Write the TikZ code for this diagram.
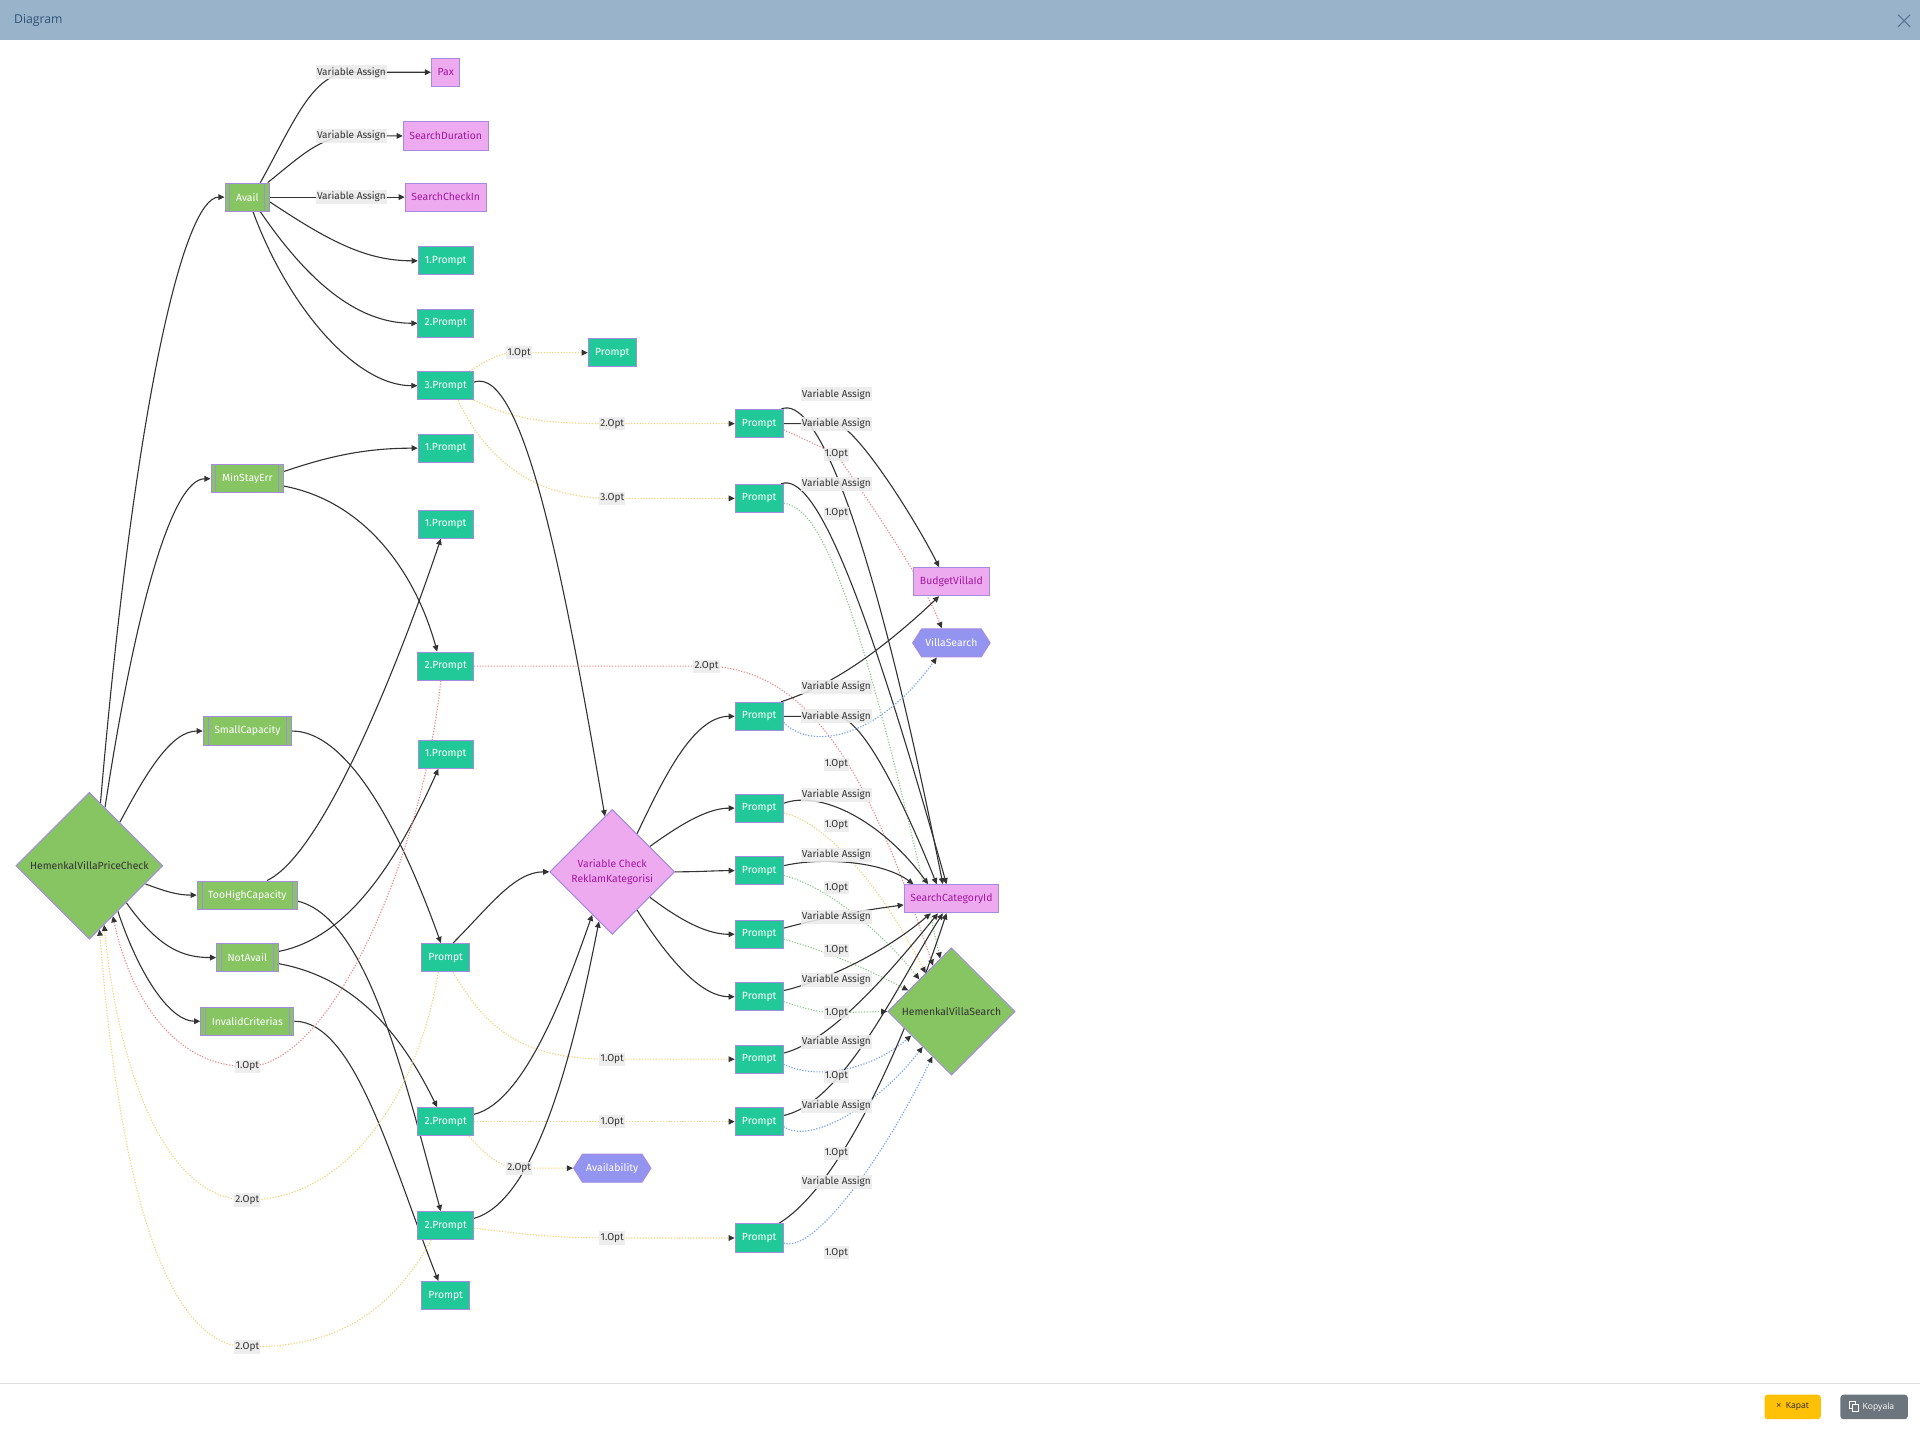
\documentclass[tikz,border=0pt]{standalone}
\usepackage{fontspec}
\setmainfont{Fira Sans}
\newfontfamily\uifont{Open Sans}
\usetikzlibrary{arrows.meta,shapes.geometric,shapes.symbols}
\definecolor{hdr}{HTML}{99B3CB}
\definecolor{hdrtxt}{HTML}{2E5274}
\definecolor{tealc}{HTML}{20C997}
\definecolor{grn}{HTML}{87C562}
\definecolor{pnk}{HTML}{EEAAEE}
\definecolor{pnktxt}{HTML}{A0179F}
\definecolor{hexc}{HTML}{9394F0}
\definecolor{bord}{HTML}{A58BE0}
\definecolor{edgec}{HTML}{333333}
\definecolor{optY}{HTML}{F2D27A}
\definecolor{optR}{HTML}{F08888}
\definecolor{optG}{HTML}{88CC88}
\definecolor{optB}{HTML}{6FA0F0}
\definecolor{kapc}{HTML}{FFC107}
\definecolor{kopc}{HTML}{6C757D}
\pgfdeclarelayer{back}
\pgfdeclarelayer{bg}
\pgfsetlayers{back,bg,main}
\tikzset{
 base/.style={draw=bord, line width=0.8pt, minimum height=23pt, inner xsep=5.5pt, inner ysep=0pt, font=\fontsize{8.5}{10}\selectfont},
 prompt/.style={base, rectangle, fill=tealc, text=white},
 varn/.style={base, rectangle, fill=pnk, text=pnktxt, inner xsep=5pt},
 sub/.style={base, rectangle, fill=grn, text=white, inner xsep=9pt,
   path picture={\draw[bord, line width=0.8pt]
     ([xshift=4pt]path picture bounding box.south west) -- ([xshift=4pt]path picture bounding box.north west)
     ([xshift=-4pt]path picture bounding box.south east) -- ([xshift=-4pt]path picture bounding box.north east);}},
 hexn/.style={base, signal, signal to=east and west, signal from=nowhere, signal pointer angle=115, fill=hexc, text=white, inner xsep=3pt},
 dia/.style={diamond, aspect=1, draw=bord, line width=0.8pt, inner sep=0pt, font=\fontsize{8.5}{12.5}\selectfont},
 flow/.style={draw=edgec, line width=0.9pt, -{Triangle[length=5pt,width=4.6pt]}},
 opt/.style={line width=0.9pt, dash pattern=on 1pt off 1.3pt, -{Triangle[length=5pt,width=4.6pt,color=edgec]}},
 oy/.style={opt, draw=optY},
 orr/.style={opt, draw=optR},
 og/.style={opt, draw=optG},
 ob/.style={opt, draw=optB},
 lbl/.style={fill=black!8, fill opacity=0.88, text opacity=1, text=black!80, inner xsep=1pt, inner ysep=1.6pt, font=\fontsize{8.2}{9}\selectfont}
}
\begin{document}
\begin{tikzpicture}[x=1pt,y=-1pt]
\useasboundingbox (0,0) rectangle (1568,1169);
\begin{pgfonlayer}{back}
\fill[white] (0,0) rectangle (1568,1169);
\fill[hdr] (0,0) rectangle (1568,33);
\draw[black!13, line width=0.8pt] (0,1130) -- (1568,1130);
\end{pgfonlayer}
% header and footer
\node[anchor=west, text=hdrtxt, font=\uifont\fontsize{10}{12}\selectfont] (title) at (8,17) {Diagram};
\coordinate (xa) at (1550,12); \coordinate (xb) at (1560,22);
\coordinate (xc) at (1550,22); \coordinate (xd) at (1560,12);
\draw[hdrtxt!80, line width=0.9pt] (xa) -- (xb) (xc) -- (xd);
\node[fill=kapc, rounded corners=2.5pt, minimum width=46pt, minimum height=20pt, inner sep=0pt, text=black!85, font=\uifont\fontsize{7}{8}\selectfont] (kapat) at (1464,1149) {\texttimes\ \ Kapat};
\node[fill=kopc, rounded corners=2.5pt, minimum width=55pt, minimum height=20pt, inner sep=0pt] (kopya) at (1530.5,1149) {};
\node[anchor=west, text=white, inner sep=0pt, font=\uifont\fontsize{7}{8}\selectfont] (kopyat) at (1521,1149) {Kopyala};
\draw[white, line width=0.6pt] (1510,1144.5) rectangle (1515.5,1150);
\draw[white, line width=0.6pt, fill=kopc] (1512.5,1147) rectangle (1518,1152.5);

% nodes
\node[varn] (pax) at (364,59) {Pax};
\node[varn] (sdur) at (364,111) {SearchDuration};
\node[varn] (schk) at (364,161) {SearchCheckIn};
\node[sub] (avail) at (202,161) {Avail};
\node[prompt] (a1) at (364,213) {1.Prompt};
\node[prompt] (a2) at (364,264) {2.Prompt};
\node[prompt] (a3) at (364,315) {3.Prompt};
\node[prompt] (p1) at (500,288) {Prompt};
\node[prompt] (p2) at (620,346) {Prompt};
\node[prompt] (p3) at (620,407) {Prompt};
\node[sub] (minst) at (202,391) {MinStayErr};
\node[prompt] (m1) at (364,366) {1.Prompt};
\node[prompt] (t1) at (364,428) {1.Prompt};
\node[prompt] (m2) at (364,544) {2.Prompt};
\node[prompt] (n1) at (364,616) {1.Prompt};
\node[sub] (smallc) at (202,597) {SmallCapacity};
\node[sub] (tooh) at (202,731) {TooHighCapacity};
\node[sub] (nota) at (202,782) {NotAvail};
\node[sub] (inval) at (202,834) {InvalidCriterias};
\node[dia, fill=grn, text=edgec, minimum size=120pt] (hvpc) at (73,707) {HemenkalVillaPriceCheck};
\node[prompt] (ps) at (364,782) {Prompt};
\node[dia, fill=pnk, text=pnktxt, minimum size=102pt, align=center] (vc) at (500,712) {Variable Check\\ReklamKategorisi};
\node[prompt] (na2) at (364,916) {2.Prompt};
\node[prompt] (ic2) at (364,1001) {2.Prompt};
\node[prompt] (pb) at (364,1058) {Prompt};
\node[hexn] (avl) at (500,954) {Availability};
\node[varn] (budget) at (777,475) {BudgetVillaId};
\node[hexn] (vills) at (777,525) {VillaSearch};
\node[varn] (sci) at (777,734) {SearchCategoryId};
\node[dia, fill=grn, text=edgec, minimum size=104pt] (hvs) at (777,826) {HemenkalVillaSearch};
\node[prompt] (r1) at (620,585) {Prompt};
\node[prompt] (r2) at (620,660) {Prompt};
\node[prompt] (r3) at (620,711) {Prompt};
\node[prompt] (r4) at (620,763) {Prompt};
\node[prompt] (r5) at (620,814) {Prompt};
\node[prompt] (r6) at (620,865) {Prompt};
\node[prompt] (r7) at (620,916) {Prompt};
\node[prompt] (r8) at (620,1011) {Prompt};

% edge labels
\node[lbl] (lv1) at (287,59) {Variable Assign};
\node[lbl] (lv2) at (287,111) {Variable Assign};
\node[lbl] (lv3) at (287,161) {Variable Assign};
\node[lbl] (lv4) at (683,322) {Variable Assign};
\node[lbl] (lv5) at (683,346) {Variable Assign};
\node[lbl] (lv6) at (683,395) {Variable Assign};
\node[lbl] (lv7) at (683,561) {Variable Assign};
\node[lbl] (lv8) at (683,585) {Variable Assign};
\node[lbl] (lv9) at (683,649) {Variable Assign};
\node[lbl] (lv10) at (683,698) {Variable Assign};
\node[lbl] (lv11) at (683,749) {Variable Assign};
\node[lbl] (lv12) at (683,800) {Variable Assign};
\node[lbl] (lv13) at (683,851) {Variable Assign};
\node[lbl] (lv14) at (683,903) {Variable Assign};
\node[lbl] (lv15) at (683,965) {Variable Assign};
\node[lbl] (lo1) at (424,288) {1.Opt};
\node[lbl] (lo2) at (500,346) {2.Opt};
\node[lbl] (lo3) at (500,407) {3.Opt};
\node[lbl] (lo4) at (202,871) {1.Opt};
\node[lbl] (lo5) at (202,980) {2.Opt};
\node[lbl] (lo6) at (202,1100) {2.Opt};
\node[lbl] (lo7) at (500,865) {1.Opt};
\node[lbl] (lo8) at (500,916) {1.Opt};
\node[lbl] (lo9) at (424,954) {2.Opt};
\node[lbl] (lo10) at (500,1011) {1.Opt};
\node[lbl] (lo11) at (577,544) {2.Opt};
\node[lbl] (lr1) at (683,371) {1.Opt};
\node[lbl] (lr2) at (683,419) {1.Opt};
\node[lbl] (lr3) at (683,624) {1.Opt};
\node[lbl] (lr4) at (683,674) {1.Opt};
\node[lbl] (lr5) at (683,725) {1.Opt};
\node[lbl] (lr6) at (683,776) {1.Opt};
\node[lbl] (lr7) at (683,827) {1.Opt};
\node[lbl] (lr8) at (683,879) {1.Opt};
\node[lbl] (lr9) at (683,942) {1.Opt};
\node[lbl] (lr10) at (683,1023) {1.Opt};

\begin{pgfonlayer}{bg}
% Avail
\draw[flow] ([xshift=-8pt]avail.north east) .. controls (240,100) and (255,59) .. (lv1.center) -- (pax.west);
\draw[flow] ([xshift=-2pt]avail.north east) .. controls (245,128) and (262,111) .. (lv2.center) -- (sdur.west);
\draw[flow] (avail.east) -- (lv3.center) -- (schk.west);
\draw[flow] ([yshift=-4pt]avail.east) .. controls (270,198) and (300,213) .. (a1.west);
\draw[flow] ([xshift=-8pt]avail.south east) .. controls (255,235) and (295,264) .. (a2.west);
\draw[flow] ([xshift=-14pt]avail.south east) .. controls (235,250) and (290,315) .. (a3.west);
% 3.Prompt
\draw[oy] ([xshift=-4pt]a3.north east) .. controls (400,294) and (405,288) .. (lo1.center) -- (p1.west);
\draw[oy] (a3.south east) .. controls (420,342) and (440,346) .. (lo2.center) -- (p2.west);
\draw[oy] ([xshift=10pt]a3.south) .. controls (395,370) and (430,407) .. (lo3.center) -- (p3.west);
\draw[flow] ([yshift=3pt]a3.east) .. controls (428,298) and (462,480) .. ([xshift=-6pt,yshift=-6pt]vc.north);
% MinStayErr
\draw[flow] ([yshift=6pt]minst.east) .. controls (270,372) and (300,366) .. (m1.west);
\draw[flow] ([yshift=-6pt]minst.east) .. controls (300,410) and (340,470) .. ([xshift=-7pt]m2.north);
% SmallCapacity
\draw[flow] (smallc.east) .. controls (290,597) and (335,700) .. ([xshift=-4pt]ps.north);
% TooHighCapacity
\draw[flow] ([xshift=16pt]tooh.north) .. controls (270,695) and (340,500) .. ([xshift=-4pt]t1.south);
\draw[flow] ([yshift=-5pt]tooh.east) .. controls (300,750) and (330,880) .. ([xshift=-4pt]ic2.north);
% NotAvail
\draw[flow] ([yshift=5pt]nota.east) .. controls (290,765) and (330,690) .. ([xshift=-6pt]n1.south);
\draw[flow] ([yshift=-5pt]nota.east) .. controls (300,800) and (335,860) .. ([xshift=-7pt]na2.north);
% InvalidCriterias
\draw[flow] (inval.east) .. controls (290,834) and (320,950) .. ([xshift=-6pt]pb.north);
% HVPC out
\draw[flow] (hvpc.80) .. controls (110,330) and (150,161) .. (avail.west);
\draw[flow] (hvpc.75) .. controls (110,500) and (140,391) .. (minst.west);
\draw[flow] (hvpc.55) .. controls (120,630) and (140,597) .. (smallc.west);
\draw[flow] (hvpc.342) .. controls (135,728) and (145,731) .. (tooh.west);
\draw[flow] (hvpc.315) .. controls (130,775) and (150,782) .. (nota.west);
\draw[flow] (hvpc.302) .. controls (115,800) and (140,834) .. (inval.west);
% back into HVPC
\draw[orr] ([xshift=-4pt]m2.south) .. controls (345,700) and (270,871) .. (lo4.center) .. controls (140,871) and (105,810) .. (hvpc.295);
\draw[oy] ([xshift=-6pt]ps.south) .. controls (340,900) and (280,980) .. (lo5.center) .. controls (130,980) and (95,860) .. (hvpc.284);
\draw[oy] ([xshift=-12pt]ic2.south) .. controls (310,1090) and (250,1100) .. (lo6.center) .. controls (120,1100) and (92,900) .. (hvpc.279);
% Prompt S
\draw[flow] ([xshift=6pt]ps.north) .. controls (400,740) and (420,712) .. (vc.west);
\draw[oy] ([xshift=6pt]ps.south) .. controls (400,845) and (430,865) .. (lo7.center) -- (r6.west);
% 2.Prompt NA2
\draw[flow] ([yshift=6pt]na2.east) .. controls (430,900) and (465,800) .. (vc.245);
\draw[oy] (na2.east) -- (lo8.center) -- (r7.west);
\draw[oy] ([xshift=-4pt]na2.south east) .. controls (398,945) and (410,954) .. (lo9.center) -- (avl.west);
% 2.Prompt IC2
\draw[flow] ([yshift=6pt]ic2.east) .. controls (440,980) and (470,850) .. (vc.255);
\draw[oy] ([yshift=-2pt]ic2.east) .. controls (430,1008) and (450,1011) .. (lo10.center) -- (r8.west);
% VC to R
\draw[flow] (vc.57) .. controls (540,640) and (565,585) .. (r1.west);
\draw[flow] (vc.34) .. controls (560,670) and (580,660) .. (r2.west);
\draw[flow] (vc.east) .. controls (570,712) and (585,711) .. (r3.west);
\draw[flow] (vc.326) .. controls (560,755) and (580,763) .. (r4.west);
\draw[flow] (vc.303) .. controls (550,790) and (575,814) .. (r5.west);
% P2
\draw[flow] ([xshift=-2pt]p2.north east) .. controls (665,322) and (710,420) .. ([xshift=-7pt]sci.north);
\draw[flow] (p2.east) -- (lv5.center) .. controls (700,350) and (745,420) .. ([xshift=-10pt]budget.north);
\draw[orr] ([yshift=-5pt]p2.east) .. controls (660,360) and (672,366) .. (lr1.center) .. controls (700,395) and (755,475) .. ([xshift=-8pt]vills.north);
% P3
\draw[flow] ([xshift=-2pt]p3.north east) .. controls (665,385) and (705,480) .. ([xshift=-4pt]sci.north);
\draw[og] ([yshift=-4pt]p3.east) .. controls (670,415) and (700,480) .. (hvs.102);
% M2 2.Opt
\draw[orr] (m2.east) -- (lo11.center) .. controls (670,546) and (715,650) .. (hvs.112);
% R1
\draw[flow] ([xshift=-2pt]r1.north east) .. controls (662,565) and (700,550) .. ([xshift=-10pt]budget.south);
\draw[flow] (r1.east) -- (lv8.center) .. controls (705,585) and (740,660) .. ([xshift=-12pt]sci.north);
\draw[ob] ([yshift=-5pt]r1.east) .. controls (665,615) and (720,600) .. ([xshift=-12pt]vills.south);
% R2
\draw[flow] ([yshift=4pt]r2.east) .. controls (670,645) and (720,670) .. ([xshift=-19pt]sci.north);
\draw[oy] ([yshift=-4pt]r2.east) .. controls (670,670) and (715,715) .. (hvs.124);
% R3
\draw[flow] ([yshift=4pt]r3.east) .. controls (670,700) and (720,703) .. ([xshift=-31pt]sci.north);
\draw[og] ([yshift=-4pt]r3.east) .. controls (670,722) and (715,755) .. (hvs.135);
% R4
\draw[flow] ([yshift=5pt]r4.east) .. controls (670,750) and (700,744) .. ([yshift=-5pt]sci.west);
\draw[og] ([yshift=-4pt]r4.east) .. controls (680,778) and (715,795) .. (hvs.154);
% R5
\draw[flow] ([yshift=5pt]r5.east) .. controls (670,802) and (720,780) .. ([xshift=-17pt]sci.south);
\draw[og] ([yshift=-4pt]r5.east) .. controls (665,826) and (672,827) .. (lr7.center) -- (hvs.west);
% R6
\draw[flow] ([yshift=5pt]r6.east) .. controls (680,850) and (730,790) .. ([xshift=-11pt]sci.south);
\draw[ob] ([yshift=-4pt]r6.east) .. controls (665,882) and (710,875) .. (hvs.211);
% R7
\draw[flow] ([yshift=5pt]r7.east) .. controls (690,900) and (735,800) .. ([xshift=-7pt]sci.south);
\draw[ob] ([yshift=-4pt]r7.east) .. controls (660,935) and (715,905) .. (hvs.231);
% R8
\draw[flow] ([xshift=-4pt]r8.north east) .. controls (665,982) and (715,920) .. ([xshift=-4pt]sci.south);
\draw[ob] ([yshift=-4pt]r8.east) .. controls (665,1025) and (725,940) .. (hvs.247);
\end{pgfonlayer}
\end{tikzpicture}
\end{document}
